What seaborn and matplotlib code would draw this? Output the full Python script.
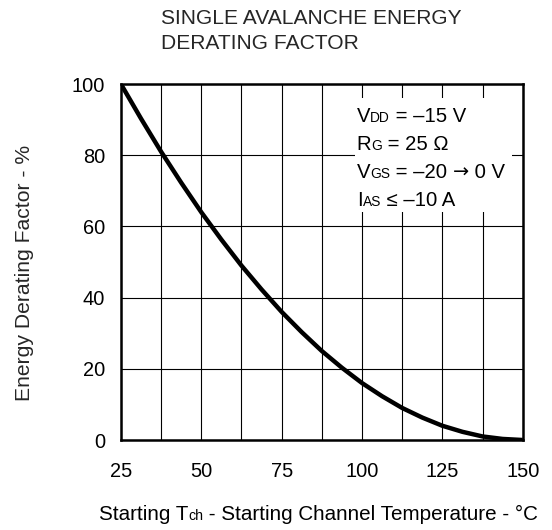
import numpy as np
import pandas as pd
import matplotlib
matplotlib.use("Agg")
import matplotlib.pyplot as plt
import seaborn as sns
from matplotlib.patches import Rectangle
from matplotlib.offsetbox import TextArea, HPacker, VPacker, AnchoredOffsetbox

# values
temp_c = [25, 31.25, 37.5, 43.75, 50, 56.25, 62.5, 68.75, 75, 81.25, 87.5,
          93.75, 100, 106.25, 112.5, 118.75, 125, 131.25, 137.5, 143.75, 150]
derating = [100, 90.3, 81, 72.3, 64, 56.3, 49, 42.3, 36, 30.3, 25,
            20.3, 16, 12.3, 9, 6.3, 4, 2.3, 1, 0.3, 0]

x_ticks = [25, 50, 75, 100, 125, 150]
y_ticks = [0, 20, 40, 60, 80, 100]

# conditions text: (text, style)  style: "n" normal, "s" subscript, "y" symbol
conditions = [
    [("V", "n"), ("DD", "s"), (" = \u201315 V", "n")],
    [("R", "n"), ("G", "s"), (" = 25 \u03a9", "n")],
    [("V", "n"), ("GS", "s"), (" = \u201320 ", "n"), ("\u2192", "y"), (" 0 V", "n")],
    [("I", "n"), ("AS", "s"), (" \u2264 \u201310 A", "n")],
]
xlabel_parts = [("Starting T", "n"), ("ch", "s"),
                (" - Starting Channel Temperature - \u00b0C", "n")]

sns.set_style("white")
FONT = ["Liberation Sans", "DejaVu Sans"]
plt.rcParams["font.family"] = FONT

df = pd.DataFrame({"temp": temp_c, "factor": derating})

fig = plt.figure(figsize=(5.52, 5.30), dpi=100)
ax = fig.add_axes([0.219, 0.1698, 0.728, 0.6717])

# grid
for xv in np.arange(25, 150.1, 12.5):
    ax.axvline(xv, color="black", lw=0.8, zorder=1)
for yv in range(0, 101, 20):
    ax.axhline(yv, color="black", lw=0.8, zorder=1)

sns.lineplot(data=df, x="temp", y="factor", color="black", lw=3.2, ax=ax,
             zorder=4, solid_capstyle="butt")

ax.set_xlim(25, 150)
ax.set_ylim(0, 100)
ax.set_xticks(x_ticks)
ax.set_yticks(y_ticks)
ax.tick_params(length=0, labelsize=14.4, colors="black")
ax.tick_params(axis="x", pad=15.5)
ax.tick_params(axis="y", pad=11.5)
for sp in ax.spines.values():
    sp.set_linewidth(1.8)
    sp.set_color("black")
    sp.set_zorder(5)

ax.set_xlabel("")
ax.set_ylabel("Energy Derating Factor - %", fontsize=15.2)
ax.yaxis.set_label_coords(-0.216, 0.47)


def rich_line(parts, size):
    kids = []
    for txt, style in parts:
        if style == "s":
            props = dict(fontsize=size * 0.68, family=FONT)
        elif style == "y":
            props = dict(fontsize=size * 0.95, family=["DejaVu Sans"])
        else:
            props = dict(fontsize=size, family=FONT)
        kids.append(TextArea(txt, textprops=dict(color="black", **props)))
    return HPacker(children=kids, align="baseline", pad=0, sep=0)


# white box behind the conditions
ax.add_patch(Rectangle((97.8, 64), 48.8, 32.1, facecolor="white",
                       edgecolor="none", zorder=2))
box = VPacker(children=[rich_line(p, 14.6) for p in conditions],
              align="left", pad=0, sep=6.5)
ax.add_artist(AnchoredOffsetbox(loc="upper left", child=box, pad=0, borderpad=0,
                                bbox_to_anchor=(98.4, 93.6),
                                bbox_transform=ax.transData, frameon=False))

xl = rich_line(xlabel_parts, 14.9)
fig.add_artist(AnchoredOffsetbox(loc="center", child=xl, pad=0, borderpad=0,
                                 bbox_to_anchor=(0.577, 0.029),
                                 bbox_transform=fig.transFigure, frameon=False))

fig.text(0.292, 0.983, "SINGLE AVALANCHE ENERGY\nDERATING FACTOR",
         fontsize=15.1, ha="left", va="top", linespacing=1.37)

fig.savefig("out.png", dpi=100)
